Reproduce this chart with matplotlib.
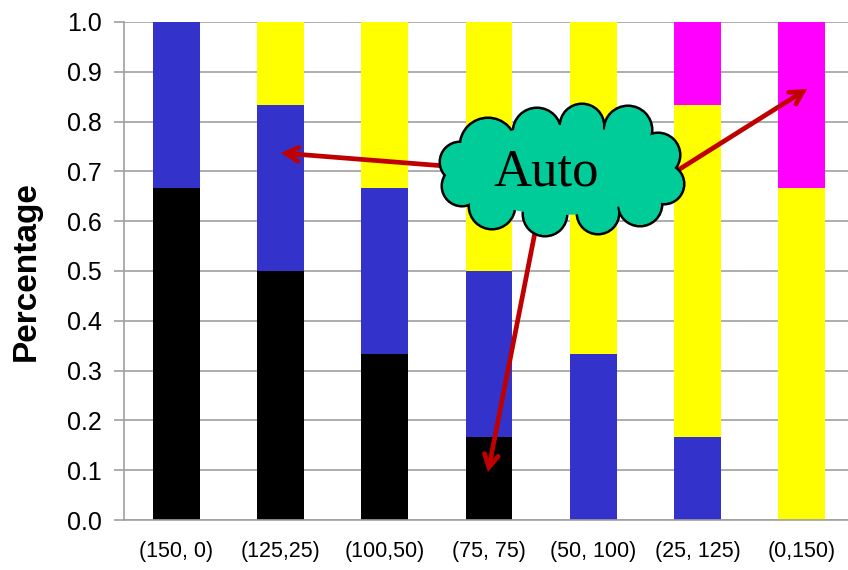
import numpy as np
import matplotlib.pyplot as plt
from matplotlib.patches import Circle, Ellipse

# data: share of each group per split (values are sixths)
labels = ['(150, 0)', '(125,25)', '(100,50)', '(75, 75)', '(50, 100)', '(25, 125)', '(0,150)']
black = [0.667, 0.5, 0.333, 0.167, 0.0, 0.0, 0.0]
blue = [0.333, 0.333, 0.333, 0.333, 0.333, 0.167, 0.0]
yellow = [0.0, 0.167, 0.333, 0.5, 0.667, 0.667, 0.667]
magenta = [0.0, 0.0, 0.0, 0.0, 0.0, 0.167, 0.333]

series = [(black, '#000000'), (blue, '#3333CC'), (yellow, '#FFFF00'), (magenta, '#FF00FF')]

fig = plt.figure(figsize=(8.48, 5.70), dpi=100)
ax = fig.add_axes([124 / 848, 50 / 570, 730 / 848, 498 / 570])

x = np.arange(len(labels))
bottom = np.zeros(len(labels))
for vals, col in series:
    ax.bar(x, vals, width=0.45, bottom=bottom, color=col, zorder=2)
    bottom += np.array(vals)

ax.set_xlim(-0.5, 6.5)
ax.set_ylim(0, 1.0)
ax.set_yticks(np.arange(0, 1.01, 0.1))
ax.set_yticklabels(['%.1f' % v for v in np.arange(0, 1.01, 0.1)],
                   fontsize=18, family='Liberation Sans')
ax.set_xticks(x)
ax.set_xticklabels(labels, fontsize=15.5, family=['Liberation Sans Narrow', 'Liberation Sans'])
ax.tick_params(axis='y', length=7, color='#A0A0A0', width=1.2, pad=9)
ax.tick_params(axis='x', length=0, pad=15)
ax.grid(axis='y', color='#A0A0A0', linewidth=1.2, zorder=0)
ax.set_axisbelow(True)
for s in ['top', 'right']:
    ax.spines[s].set_visible(False)
for s in ['left', 'bottom']:
    ax.spines[s].set_color('#A0A0A0')
    ax.spines[s].set_linewidth(1.2)
ax.set_ylabel('Percentage', fontsize=24, fontweight='bold', family='Liberation Sans')
ax.yaxis.set_label_coords(-0.112, 0.5)

# overlay in pixel coords for the callout
ov = fig.add_axes([0, 0, 1, 1])
ov.set_xlim(0, 848)
ov.set_ylim(570, 0)
ov.axis('off')

red = '#C00000'
arrows = [((445, 166), (281, 153)), ((675, 172), (807, 89)), ((537, 222), (488, 472))]
for start, tip in arrows:
    ov.annotate('', xy=tip, xytext=start,
                arrowprops=dict(arrowstyle='->,head_length=0.9,head_width=0.5',
                                color=red, lw=3.4, shrinkA=0, shrinkB=0,
                                joinstyle='miter', capstyle='round'), zorder=3)

bumps = [(488, 146, 28), (537, 132, 24), (582, 126, 22), (628, 130, 24), (658, 155, 22),
         (664, 184, 20), (640, 204, 22), (598, 213, 21), (545, 214, 22), (492, 206, 23),
         (462, 186, 20), (460, 162, 20)]
green = '#00CC99'
for cx, cy, r in bumps:
    ov.add_patch(Circle((cx, cy), r, facecolor=green, edgecolor='black', lw=2.2, zorder=4))
for cx, cy, r in bumps:
    ov.add_patch(Circle((cx, cy), r - 1.0, facecolor=green, edgecolor='none', zorder=5))
ov.add_patch(Ellipse((560, 170), 200, 90, facecolor=green, edgecolor='none', zorder=5))
ov.text(546, 172, 'Auto', fontsize=38, family='Liberation Serif',
        ha='center', va='center', zorder=6)

fig.savefig('out.png', dpi=100)
